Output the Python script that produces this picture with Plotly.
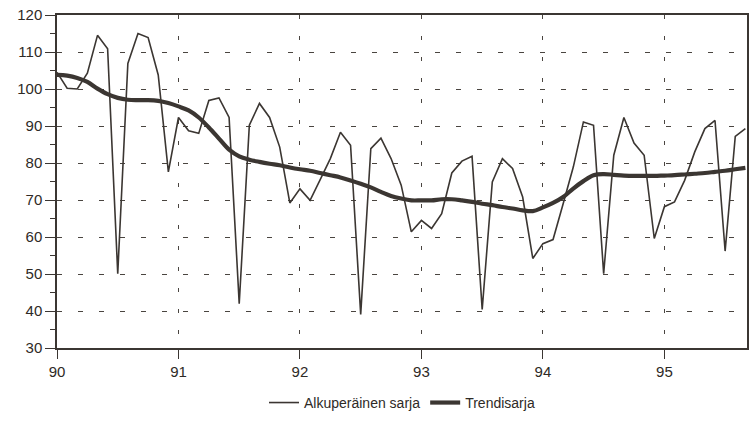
import plotly.graph_objects as go

months = list(range(69))
x_vals = [90 + m / 12 for m in months]

original = [104.5, 100.2, 100.0, 104.3, 114.5, 110.9, 50.1, 106.9, 115.0, 113.9, 103.8, 77.6,
            92.3, 88.7, 88.0, 96.9, 97.6, 92.3, 42.0, 90.2, 96.1, 92.3, 84.3, 69.2,
            73.0, 69.9, 75.5, 81.2, 88.3, 84.8, 39.1, 83.9, 86.7, 81.2, 74.0, 61.4,
            64.5, 62.3, 66.3, 77.3, 80.5, 81.8, 40.4, 74.9, 81.2, 78.5, 70.8, 54.2,
            58.2, 59.3, 69.0, 78.9, 91.1, 90.2, 50.1, 82.1, 92.3, 85.4, 82.1, 59.6,
            68.2, 69.5, 75.3, 83.0, 89.3, 91.5, 56.2, 87.2, 89.3]

trend = [103.8, 103.6, 103.0, 101.9, 100.1, 98.6, 97.6, 97.1, 97.0, 97.0, 96.8, 96.2,
         95.3, 94.2, 92.3, 89.6, 86.6, 83.6, 81.8, 80.9, 80.3, 79.8, 79.4, 78.8,
         78.3, 77.9, 77.3, 76.7, 76.1, 75.3, 74.4, 73.4, 72.2, 71.1, 70.4, 69.9,
         69.9, 69.9, 70.2, 70.2, 69.9, 69.5, 69.0, 68.6, 68.1, 67.7, 67.2, 67.0,
         68.0, 69.2, 70.8, 73.1, 75.1, 76.7, 77.0, 76.8, 76.6, 76.5, 76.5, 76.5,
         76.6, 76.7, 76.9, 77.1, 77.3, 77.6, 77.9, 78.3, 78.7]

x_ticks = [90, 91, 92, 93, 94, 95]
x_tick_labels = ["90", "91", "92", "93", "94", "95"]
y_ticks = [30, 40, 50, 60, 70, 80, 90, 100, 110, 120]
y_minor_ticks = [35, 45, 55, 65, 75, 85, 95, 105, 115]

line_color = "#3b3632"
grid_color = "#4a4540"

fig = go.Figure()
fig.add_trace(go.Scatter(x=x_vals, y=original, mode="lines", name="Alkuperäinen sarja",
                         line=dict(color=line_color, width=1.6)))
fig.add_trace(go.Scatter(x=x_vals, y=trend, mode="lines", name="Trendisarja",
                         line=dict(color=line_color, width=4.2, shape="spline")))

fig.update_layout(
    width=750, height=424,
    margin=dict(l=57, r=3, t=15, b=76, autoexpand=False),
    paper_bgcolor="white", plot_bgcolor="white",
    font=dict(family="Liberation Sans, Arial, sans-serif", size=15, color="#2e2a26"),
    showlegend=True,
    legend=dict(orientation="h", x=0.5, xanchor="center", y=-0.165, yanchor="middle",
                font=dict(size=14), itemwidth=30, tracegroupgap=0),
)

fig.update_xaxes(
    range=[90, 95.68], tickvals=x_ticks, ticktext=x_tick_labels, automargin=False,
    showgrid=True, gridcolor=grid_color, gridwidth=1, griddash="4px,17px",
    showline=True, linecolor=line_color, linewidth=1.5, mirror=True,
    ticks="outside", ticklen=9, tickcolor=line_color, tickwidth=1.2,
    zeroline=False, ticklabeloverflow="allow",
)
fig.update_yaxes(
    range=[30, 120], tickvals=y_ticks, automargin=False,
    showgrid=True, gridcolor=grid_color, gridwidth=1, griddash="5px,16px",
    showline=True, linecolor=line_color, linewidth=1.5, mirror=True,
    ticks="outside", ticklen=10, tickcolor=line_color, tickwidth=1.2,
    minor=dict(tickvals=y_minor_ticks, ticks="outside",
               ticklen=5, tickcolor=line_color, tickwidth=1.2, showgrid=False),
    zeroline=False, ticklabeloverflow="allow",
)

fig.write_html("out.html", config={"displayModeBar": False},
               post_script="document.body.style.margin='0px';document.body.style.overflow='hidden';")
